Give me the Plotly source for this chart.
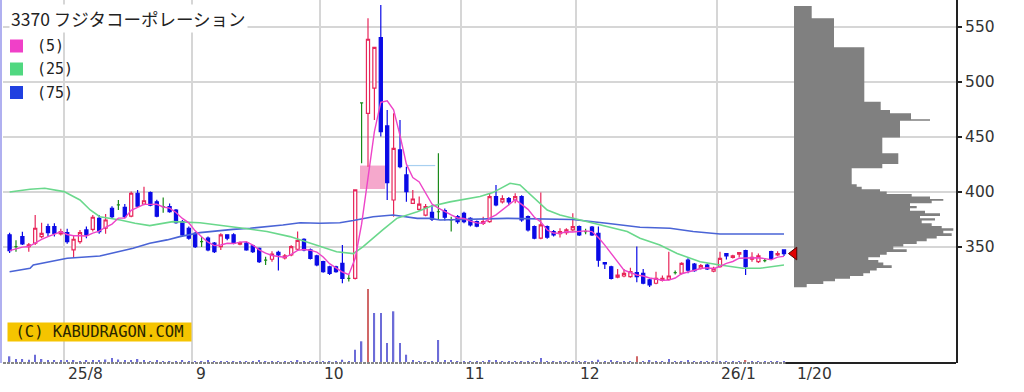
import plotly.graph_objects as go
import pandas as pd

# ---------------- data (index 0 = 2025-07-18 ... 121 = 2026-01-20) ----------------
open_ = [361, 350.3, 359.4, 350.3, 353.4, 359.4, 368.5, 368.5, 361.8, 363,
         347.3, 354.8, 365.5, 366, 376, 367, 385.2, 388.2, 386, 378,
         398.8, 389, 399.4, 391, 386.7, 386.7, 383.6, 373, 367, 362.4,
         354.8, 358, 353.4, 350.3, 361, 361, 352.5, 353.4, 351, 348.8,
         338, 338.8, 345, 340, 342.7, 347.9, 357, 347.3, 341.8, 336.6,
         332, 332, 335, 321.5, 321.5, 481, 471.5, 494.3, 540.3, 460,
         392.7, 438.2, 415.5, 389.7, 384.2, 379, 381.5, 382, 383, 374.5,
         377.5, 380.6, 376, 373, 371.5, 373, 395.8, 391, 394, 392.7,
         395.8, 377.5, 368.5, 358, 368.5, 364, 362, 363, 365.5, 368.5,
         364, 368, 362.4, 335.7, 332, 322.5, 323.6, 323, 326.7, 326,
         320, 317, 319.5, 320.6, 326.7, 326, 338, 334.5, 330.5, 333.6,
         328, 332, 344, 340.6, 343.4, 346.6, 338.8, 336.6, 337.6, 345.7,
         342.7, 347.3]
high_ = [363, 356, 363.9, 353.6, 379, 372, 371, 371.5, 366.5, 366.5,
         360, 365.5, 368.5, 379, 379, 380, 387, 392.7, 389, 400.3,
         401.8, 404.8, 400.5, 393, 395, 389.5, 384.5, 374.5, 368.5, 363.5,
         359, 359.5, 354.5, 362.4, 361.5, 362.4, 355, 354.5, 352, 349.5,
         341, 346, 346.5, 343.5, 351.5, 364, 358, 348.5, 343, 337.5,
         333, 333, 351.8, 324.5, 401.8, 481, 558, 532, 570, 474.5,
         471.5, 465.5, 423, 401.8, 395.8, 389, 388.2, 435.2, 385, 377.5,
         379, 382, 377, 374, 377.5, 398.8, 406.4, 397, 395.5, 398.8,
         397, 378.5, 369.5, 399.4, 369.5, 365.5, 367, 367, 380.6, 369.5,
         366.5, 369, 368.5, 336, 333, 330, 330, 331, 350.3, 330,
         321, 327.5, 324, 345.7, 328.5, 336, 339.7, 335.5, 334.5, 335,
         332, 345.7, 344.5, 343, 345.2, 347.5, 345.2, 344, 340, 346.6,
         346, 347.8]
low_ = [344.5, 345.7, 351.8, 345.7, 351.8, 358, 359.5, 359.4, 360.5, 353,
        340, 353, 358, 364, 362, 362, 376, 383.6, 376, 377,
        386.4, 388, 387, 377, 381, 381, 371, 359.5, 356.5, 349,
        350, 346, 344.5, 347.3, 356, 352.5, 351.5, 346.5, 344.5, 335.5,
        333.5, 336.6, 328.5, 338.5, 341.5, 347, 346, 338.5, 332.5, 326.5,
        324.5, 326.5, 317, 318.5, 320.5, 426, 423, 465.5, 450.3, 392.7,
        377.5, 421.5, 391, 389, 383, 378, 373.5, 374.5, 374, 364,
        371, 371.5, 368.5, 368, 370, 372, 387, 389.5, 388, 389.7,
        373, 364, 357, 357, 357.5, 359.5, 358.5, 361, 364, 360,
        361.5, 360, 332, 330, 320.5, 321.5, 322.5, 322, 318, 316,
        313.5, 316, 318.5, 319.5, 325, 325, 326, 327.5, 329.5, 329,
        327, 331, 338.5, 339.5, 340.5, 324.5, 336.6, 335.5, 336, 338.8,
        341.8, 341.8]
close_ = [346.6, 350.3, 352.7, 351.8, 367, 362.4, 363, 362.4, 364, 354.8,
          357, 363, 361, 377, 364, 374.5, 377.5, 388.2, 377.5, 398.8,
          387, 392, 388, 378, 386.7, 382, 372, 361, 358, 350.3,
          354.8, 347.3, 345.7, 361, 358, 353.4, 354, 347.3, 345.7, 336.6,
          338, 343.6, 342.7, 342, 350.3, 356, 347.3, 339.7, 333.6, 327.5,
          326, 327.5, 321.5, 321.5, 401.8, 481, 538.8, 531.5, 454.8, 408.5,
          439.7, 423, 400.3, 393.6, 389, 386.7, 375.2, 382, 377, 374.5,
          373, 373, 370, 369, 373, 395.8, 388.2, 394, 391, 395.8,
          374.5, 365.5, 358, 370, 358.8, 361, 364, 365.5, 368.5, 361,
          364, 361, 338, 334.5, 321.5, 324.5, 326, 327.5, 323, 317,
          315.5, 321.5, 321.5, 323.6, 326.7, 335, 329, 328.5, 333, 330,
          330.6, 339.7, 341.8, 341.8, 344.8, 332, 340.6, 341.8, 337.6, 339.7,
          344, 344]
volume = [57, 30, 30, 23, 73, 30, 20, 20, 20, 20,
          20, 10, 15, 20, 20, 25, 40, 25, 20, 20,
          30, 15, 10, 13, 10, 10, 10, 15, 10, 10,
          10, 15, 10, 10, 10, 10, 10, 10, 10, 15,
          10, 10, 10, 10, 10, 15, 10, 10, 10, 10,
          10, 10, 23, 10, 123, 207, 730, 490, 490, 190,
          507, 190, 73, 13, 10, 10, 10, 220, 15, 15,
          10, 10, 10, 10, 10, 15, 15, 10, 10, 10,
          10, 10, 10, 40, 10, 10, 10, 10, 10, 10,
          10, 10, 23, 10, 15, 10, 10, 10, 57, 10,
          15, 10, 10, 30, 10, 10, 15, 10, 10, 10,
          10, 10, 10, 10, 10, 20, 10, 10, 10, 10,
          10, 10]
vol_red_days = [56, 98, 115]

ma25_x = [0, 3.2, 5.5, 8.5, 11, 12.6, 14.1, 17.3, 19.6, 21.9, 25.5, 29.75, 36.5,
          40.2, 43.8, 46.9, 48.5, 51.1, 53.7, 55.2, 58.3, 60.5, 63.7, 65.7, 68.8,
          70.4, 73.5, 75.5, 78.2, 79.75, 81.8, 84, 86, 89.1, 92.25, 95.4, 96.5,
          98.5, 101.6, 104.3, 107.9, 111, 114.6, 117.25, 121]
ma25_y = [400, 402.5, 403.4, 400.3, 392.7, 383.6, 377.5, 374.5, 371.5, 369.4, 373, 372, 367,
          364, 359.4, 353.4, 350.3, 345.7, 344, 350, 365.5, 376, 382, 386.7, 391,
          392.7, 395.8, 399.4, 407.9, 406.4, 395.8, 383.6, 379, 374.5, 370, 365.5, 364,
          358, 351.8, 344, 336.6, 333.6, 330.6, 330.6, 333.6]
ma75_x = [0, 3.2, 3.7, 9, 14.1, 19.3, 21.9, 24.6, 26.6, 29.75, 34.9, 37.6, 42.7,
          45.4, 48.5, 51.6, 53.7, 56.8, 59.9, 61.5, 63.7, 65.7, 67.25, 77.7, 88,
          93.3, 98.5, 103.2, 106.8, 111, 121]
ma75_y = [327.5, 330.6, 333.6, 339.7, 341.8, 348.8, 353.4, 356.4, 359.4, 363, 366, 367, 370,
          372, 371.5, 372, 374, 377.5, 379, 377.5, 376, 376, 374.5, 376, 375,
          371.5, 367.9, 367, 364, 361.8, 361.8]

month_start = [9, 29, 49, 71, 89, 111]
month_labels = ["25/8", "9", "10", "11", "12", "26/1"]
last_label = "1/20"
price_ticks = [350, 400, 450, 500, 550]

# price-volume profile: bin edges (high -> low) and volume per bin
prof_edges = [569.1, 557.9, 531.5, 482.1, 474.5, 471.5, 466.1, 464.8, 449.4, 435.2,
              425.5, 421.5, 407.0, 404.8, 402.4, 400.3, 398.2, 395.8, 393.6, 392.1,
              389.7, 387.3, 385.2, 383.0, 380.6, 378.2, 376.1, 374.0, 371.5, 369.1,
              367.0, 364.8, 362.4, 360.0, 357.6, 355.2, 352.7, 350.3, 347.9, 345.5,
              343.0, 340.6, 338.2, 335.8, 333.3, 330.9, 328.5, 326.1, 323.6, 321.2,
              318.8, 316.4, 313.3]
prof_vol = [177, 400, 703, 867, 960, 1170, 1360, 1060, 883, 1043,
            883, 577, 627, 677, 860, 927, 1177, 1360, 1493, 1377,
            1160, 1227, 1160, 1310, 1460, 1260, 1410, 1277, 1377, 1477,
            1593, 1493, 1577, 1427, 1327, 1227, 1093, 993, 1127, 927,
            860, 743, 843, 893, 977, 827, 760, 693, 560, 410,
            293, 127]

gap_start, gap_end, gap_lo, gap_hi = 55, 58, 402.7, 424.0
gap2_start, gap2_end, gap2_price = 62, 66.5, 424.0

title_text = "3370 フジタコーポレーション"
ma_labels = ["(5)", "(25)", "(75)"]
copyright_text = "(C) KABUDRAGON.COM"

# ---------------- styling ----------------
W, H = 1024, 392
ML, MR, MT, MB = 3, 68, 0, 29
PW, PH = W - ML - MR, H - MT - MB
XR = [-1.03, 147.875]
YR = [244.5, 574.5]
UP, DN, DJ = "#e8265a", "#0a0ae6", "#1a8a1a"
MA_COLORS = ["#ee44c8", "#6ad88c", "#4a64d6"]
LEG_COLORS = ["#f040c8", "#50d880", "#2040e0"]
GRID = "#d6d6d6"

n = len(close_)
idx = list(range(n))
up = [i for i in idx if close_[i] > open_[i]]
dn = [i for i in idx if close_[i] < open_[i]]
dj = [i for i in idx if close_[i] == open_[i]]

fig = go.Figure()

ma5 = pd.Series(close_).rolling(5, min_periods=1).mean().tolist()
fig.add_trace(go.Scatter(x=ma75_x, y=ma75_y, mode="lines",
                         line=dict(color=MA_COLORS[2], width=1.6), hoverinfo="skip"))
fig.add_trace(go.Scatter(x=ma25_x, y=ma25_y, mode="lines",
                         line=dict(color=MA_COLORS[1], width=1.6), hoverinfo="skip"))
fig.add_trace(go.Scatter(x=idx, y=ma5, mode="lines",
                         line=dict(color=MA_COLORS[0], width=1.4), hoverinfo="skip"))


def candles(sel, inc_line, inc_fill, dec_line, dec_fill):
    return go.Candlestick(
        x=sel, open=[open_[i] for i in sel], high=[high_[i] for i in sel],
        low=[low_[i] for i in sel], close=[close_[i] for i in sel],
        increasing=dict(line=dict(color=inc_line, width=1.2), fillcolor=inc_fill),
        decreasing=dict(line=dict(color=dec_line, width=1.2), fillcolor=dec_fill),
        whiskerwidth=0, hoverinfo="skip", showlegend=False)


fig.add_trace(candles(up, UP, "white", UP, "white"))
fig.add_trace(candles(dn, DN, DN, DN, DN))
fig.add_trace(candles(dj, DJ, DJ, DJ, DJ))

# volume
vol_colors = ["#d06868" if i in vol_red_days else "#6c6cd8" for i in idx]
fig.add_trace(go.Bar(x=idx, y=volume, width=0.22, marker=dict(color=vol_colors, line=dict(width=0)),
                     xaxis="x", yaxis="y2", hoverinfo="skip"))

# price-volume profile as one stepped polygon
px_, py_ = [0], [prof_edges[0]]
for k, v in enumerate(prof_vol):
    px_ += [v, v]
    py_ += [prof_edges[k], prof_edges[k + 1]]
px_.append(0)
py_.append(prof_edges[-1])
fig.add_trace(go.Scatter(x=px_, y=py_, mode="lines", fill="toself", fillcolor="#808080",
                         line=dict(width=0, color="#808080"), xaxis="x2", yaxis="y",
                         hoverinfo="skip"))
fig.add_trace(go.Scatter(x=[0], y=[close_[-1]], mode="markers", xaxis="x2", yaxis="y",
                         marker=dict(symbol="triangle-left", size=11, color="#e00000",
                                     line=dict(color="#500000", width=1)),
                         hoverinfo="skip"))

shapes = []
shapes.append(dict(type="rect", xref="x", yref="y", x0=gap_start - 0.25, x1=gap_end + 0.66,
                   y0=gap_lo, y1=gap_hi, fillcolor="#f5a8cc", line=dict(width=0), layer="between"))
shapes.append(dict(type="line", xref="x", yref="y", x0=gap2_start, x1=gap2_end,
                   y0=gap2_price, y1=gap2_price, line=dict(color="#a8d0f0", width=1.2), layer="between"))
# left border
shapes.append(dict(type="rect", xref="paper", yref="paper", x0=-3 / PW, x1=-1 / PW, y0=0, y1=1,
                   fillcolor="#b0b0f0", line=dict(width=0), layer="above"))
# bottom axis: dashed under data, solid after
shapes.append(dict(type="line", xref="x", yref="paper", x0=XR[0], x1=n - 1 + 0.2, y0=0, y1=0,
                   line=dict(color="#606060", width=1.5, dash="3px,1px"), layer="above"))
shapes.append(dict(type="line", xref="x", yref="paper", x0=n - 1 + 0.2, x1=XR[1], y0=0, y1=0,
                   line=dict(color="#222222", width=2), layer="above"))

annotations = []
for s, lab in zip(month_start, month_labels):
    annotations.append(dict(x=s - 0.5, y=0, xref="x", yref="paper", text=lab, showarrow=False,
                            xanchor="left", yanchor="top", xshift=2, yshift=0,
                            font=dict(family="DejaVu Sans", size=15.5, color="#333333")))
annotations.append(dict(x=n - 1, y=0, xref="x", yref="paper", text=last_label, showarrow=False,
                        xanchor="left", yanchor="top", xshift=11,
                        font=dict(family="DejaVu Sans", size=15.5, color="#333333")))

annotations.append(dict(x=(9 - ML) / PW, y=1 - 18 / PH, xref="paper", yref="paper", text=title_text,
                        showarrow=False, xanchor="left", yanchor="middle", bgcolor="white", borderpad=1,
                        font=dict(family="Noto Sans CJK JP", size=17.5, color="#222222")))
row_c = [46, 69, 92.5]
for lab, col, rc in zip(ma_labels, LEG_COLORS, row_c):
    shapes.append(dict(type="rect", xref="paper", yref="paper", x0=(10 - ML) / PW, x1=(23 - ML) / PW,
                       y0=1 - (rc + 6.5) / PH, y1=1 - (rc - 6.5) / PH, fillcolor=col,
                       line=dict(width=0), layer="above"))
    annotations.append(dict(x=(35 - ML) / PW, y=1 - rc / PH, xref="paper", yref="paper", text=lab,
                            showarrow=False, xanchor="left", yanchor="middle",
                            font=dict(family="DejaVu Sans Mono", size=15, color="#222222")))

annotations.append(dict(x=(7 - ML) / PW, y=1 - 332 / PH, xref="paper", yref="paper", text=copyright_text,
                        showarrow=False, xanchor="left", yanchor="middle", bgcolor="#f5c400",
                        width=183, height=18, borderpad=0, align="center",
                        font=dict(family="DejaVu Sans Mono", size=15.5, color="#2a2600")))

fig.update_layout(
    width=W, height=H, margin=dict(l=ML, r=MR, t=MT, b=MB),
    paper_bgcolor="white", plot_bgcolor="white", showlegend=False,
    shapes=shapes, annotations=annotations,
    xaxis=dict(range=XR, tickvals=[s - 0.5 for s in month_start], showticklabels=False,
               showgrid=True, gridcolor=GRID, gridwidth=1.5, zeroline=False, showline=False,
               ticks="", rangeslider=dict(visible=False), fixedrange=True),
    yaxis=dict(range=YR, side="right", tickvals=price_ticks, showgrid=True, gridcolor=GRID,
               gridwidth=1.5, zeroline=False, showline=True, linecolor="#222222", linewidth=2,
               ticks="outside", ticklen=4, tickwidth=1.5, tickcolor="#222222",
               tickfont=dict(family="DejaVu Sans", size=15.5, color="#333333"), fixedrange=True),
    xaxis2=dict(overlaying="x", range=[-(794 - ML) * 10, (ML + PW - 794) * 10], visible=False,
                fixedrange=True),
    yaxis2=dict(overlaying="y", range=[-10, (PH - 1) * 10], visible=False, fixedrange=True),
)

fig.write_html("out.html")
